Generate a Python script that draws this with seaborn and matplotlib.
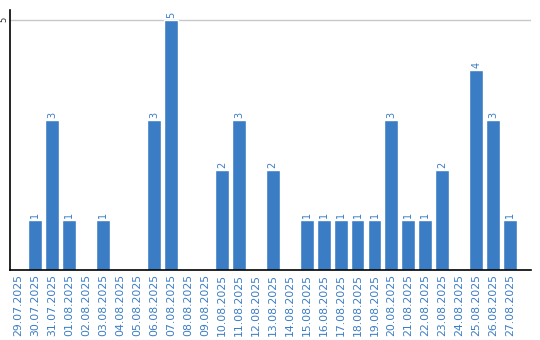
import pandas as pd
import matplotlib
matplotlib.use("Agg")
import matplotlib.pyplot as plt
import seaborn as sns

# daily counts
dates = ["29.07.2025", "30.07.2025", "31.07.2025", "01.08.2025", "02.08.2025",
         "03.08.2025", "04.08.2025", "05.08.2025", "06.08.2025", "07.08.2025",
         "08.08.2025", "09.08.2025", "10.08.2025", "11.08.2025", "12.08.2025",
         "13.08.2025", "14.08.2025", "15.08.2025", "16.08.2025", "17.08.2025",
         "18.08.2025", "19.08.2025", "20.08.2025", "21.08.2025", "22.08.2025",
         "23.08.2025", "24.08.2025", "25.08.2025", "26.08.2025", "27.08.2025"]
counts = [0, 1, 3, 1, 0, 1, 0, 0, 3, 5,
          0, 0, 2, 3, 0, 2, 0, 1, 1, 1,
          1, 1, 3, 1, 1, 2, 0, 4, 3, 1]
y_ticks = [5]

df = pd.DataFrame({"date": dates, "count": counts})

blue = "#3b7dc4"

sns.set_style("white")
fig = plt.figure(figsize=(5.4, 3.4), dpi=100)
ax = fig.add_axes([0.0185, 0.206, 0.965, 0.765])

sns.barplot(data=df, x="date", y="count", order=dates, color=blue,
            saturation=1, width=0.82, ax=ax)

# value labels, skip empty days
for bar, v in zip(ax.patches, counts):
    if v > 0:
        ax.text(bar.get_x() + bar.get_width() / 2, v + 0.04, str(v),
                rotation=90, ha="center", va="bottom", color=blue, fontsize=7)

ax.set_ylim(0, 5.2)
ax.set_xlim(-0.5, len(dates) - 0.5 + 0.74)
ax.set_yticks(y_ticks)
ax.set_yticklabels([str(t) for t in y_ticks], rotation=90, va="center", fontsize=6)
ax.axhline(5, color="#c8c8c8", linewidth=1, zorder=0)
ax.set_xticks(range(len(dates)))
ax.set_xticklabels(dates, rotation=90, color=blue, fontsize=7.8)
ax.tick_params(axis="x", length=0, pad=3)
ax.tick_params(axis="y", length=0, pad=1)
ax.set_xlabel("")
ax.set_ylabel("")

for s in ["top", "right"]:
    ax.spines[s].set_visible(False)
for s in ["left", "bottom"]:
    ax.spines[s].set_color("black")
    ax.spines[s].set_linewidth(1.2)

fig.savefig("out.png", dpi=100)
